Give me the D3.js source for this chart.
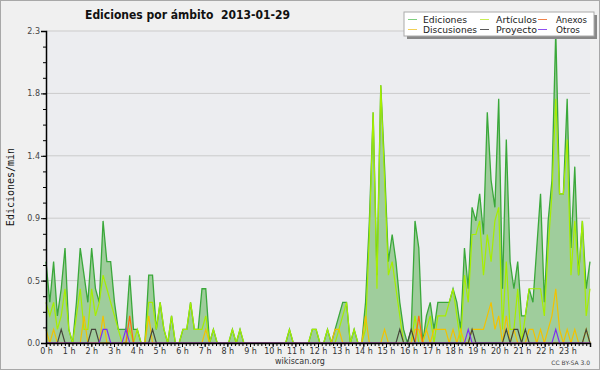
<!DOCTYPE html>
<html>
<head>
<meta charset="utf-8">
<script src="https://cdn.jsdelivr.net/npm/d3@7"></script>
<style>
body { margin: 0; background: #f0f0f0; }
svg { display: block; }
text { white-space: pre; }
</style>
</head>
<body>
<div id="chart"></div>
<script>
// edits per minute, one value every 10 minutes (00:00 .. 23:50)
var ediciones = [
  0.6,0.3,0.6,0.2,0.4,0.7, 0.1,0.0,0.3,0.7,0.5,0.3,
  0.7,0.4,0.3,0.9,0.6,0.6, 0.3,0.1,0.1,0.1,0.5,0.1,
  0.1,0.0,0.0,0.5,0.5,0.1, 0.3,0.1,0.0,0.2,0.0,0.0,
  0.1,0.1,0.3,0.1,0.1,0.4, 0.4,0.0,0.1,0.0,0.0,0.0,
  0.0,0.1,0.0,0.1,0.0,0.0, 0.0,0.0,0.0,0.0,0.0,0.0,
  0.0,0.0,0.0,0.0,0.1,0.0, 0.0,0.0,0.0,0.0,0.1,0.1,
  0.0,0.0,0.1,0.0,0.1,0.2, 0.3,0.3,0.0,0.1,0.0,0.0,
  0.3,0.9,1.7,0.5,1.9,1.3, 0.6,0.8,0.6,0.3,0.1,0.0,
  0.1,0.9,0.7,0.0,0.2,0.3, 0.1,0.3,0.3,0.3,0.3,0.4,
  0.3,0.1,0.7,0.4,1.0,0.9, 1.1,0.8,1.7,1.2,1.0,1.8,
  0.4,1.5,0.6,0.4,0.6,0.2, 0.2,0.4,0.3,0.7,1.1,0.3,
  0.9,1.2,2.3,1.1,1.1,1.8, 0.7,1.3,0.5,0.9,0.4,0.6
];
var articulos = [
  0.3,0.2,0.3,0.1,0.2,0.4, 0.1,0.0,0.2,0.4,0.1,0.1,
  0.4,0.2,0.3,0.5,0.4,0.3, 0.2,0.1,0.0,0.0,0.1,0.0,
  0.1,0.0,0.0,0.3,0.3,0.1, 0.3,0.1,0.0,0.2,0.0,0.0,
  0.1,0.1,0.3,0.1,0.1,0.1, 0.2,0.0,0.1,0.0,0.0,0.0,
  0.0,0.1,0.0,0.1,0.0,0.0, 0.0,0.0,0.0,0.0,0.0,0.0,
  0.0,0.0,0.0,0.0,0.1,0.0, 0.0,0.0,0.0,0.0,0.1,0.1,
  0.0,0.0,0.1,0.0,0.0,0.1, 0.2,0.3,0.0,0.1,0.0,0.0,
  0.1,0.8,1.7,0.4,1.9,1.2, 0.5,0.6,0.4,0.2,0.0,0.0,
  0.0,0.2,0.0,0.0,0.1,0.2, 0.0,0.2,0.2,0.2,0.3,0.4,
  0.2,0.0,0.5,0.3,0.8,0.8, 0.9,0.5,0.8,0.6,0.9,1.0,
  0.1,0.6,0.1,0.1,0.4,0.0, 0.2,0.4,0.4,0.4,0.4,0.2,
  0.7,1.1,1.8,1.1,1.1,1.5, 0.5,0.9,0.5,0.9,0.2,0.4
];
var discusiones = [
  0.1,0.0,0.1,0.0,0.0,0.0, 0.0,0.0,0.0,0.0,0.2,0.0,
  0.0,0.0,0.0,0.2,0.0,0.0, 0.0,0.0,0.0,0.0,0.0,0.0,
  0.0,0.0,0.0,0.2,0.0,0.0, 0.0,0.0,0.0,0.0,0.0,0.0,
  0.0,0.0,0.0,0.0,0.0,0.0, 0.1,0.0,0.0,0.0,0.0,0.0,
  0.0,0.0,0.0,0.0,0.0,0.0, 0.0,0.0,0.0,0.0,0.0,0.0,
  0.0,0.0,0.0,0.0,0.0,0.0, 0.0,0.0,0.0,0.0,0.0,0.0,
  0.0,0.0,0.0,0.0,0.1,0.1, 0.0,0.0,0.0,0.0,0.0,0.0,
  0.2,0.0,0.0,0.0,0.0,0.1, 0.0,0.0,0.0,0.0,0.0,0.0,
  0.0,0.1,0.1,0.0,0.1,0.0, 0.1,0.1,0.1,0.1,0.0,0.1,
  0.0,0.1,0.0,0.0,0.1,0.1, 0.1,0.1,0.2,0.3,0.1,0.2,
  0.0,0.2,0.0,0.1,0.0,0.0, 0.0,0.1,0.1,0.0,0.1,0.0,
  0.1,0.2,0.4,0.1,0.0,0.1, 0.0,0.1,0.0,0.0,0.1,0.0
];
var anexos = [
  0,0,0,0,0,0, 0,0,0,0,0,0, 0,0,0,0,0,0, 0,0,0,0,0.2,0,
  0,0,0,0,0,0, 0,0,0,0,0,0, 0,0,0,0,0,0, 0,0,0,0,0,0,
  0,0,0,0,0,0, 0,0,0,0,0,0, 0,0,0,0,0,0, 0,0,0,0,0,0,
  0,0,0,0,0,0, 0,0,0,0,0,0, 0,0,0,0,0,0, 0,0,0,0,0,0,
  0,0,0.2,0,0,0, 0,0,0,0,0,0, 0,0,0,0,0,0, 0,0,0,0,0,0,
  0,0,0,0,0,0, 0,0,0,0,0,0, 0,0,0,0,0,0, 0,0,0,0,0,0
];
var proyecto = [
  0,0,0,0,0.1,0, 0,0,0,0,0,0, 0.1,0.1,0,0,0,0, 0,0,0,0,0,0,
  0,0,0,0,0.1,0, 0,0,0,0,0,0, 0,0,0,0,0,0, 0,0,0,0,0,0,
  0,0,0,0,0,0, 0,0,0,0,0,0, 0,0,0,0,0,0, 0,0,0,0,0,0,
  0,0,0,0,0,0, 0,0,0,0,0,0, 0,0,0,0,0,0, 0,0,0,0.1,0,0,
  0.1,0,0,0,0,0, 0,0,0,0,0,0, 0,0,0,0,0.1,0, 0,0,0,0,0,0,
  0,0.1,0,0.1,0.1,0, 0.1,0,0,0,0,0, 0,0,0,0,0,0, 0,0,0,0,0.1,0
];
var otros = [
  0,0,0,0,0,0, 0,0,0,0,0,0, 0,0,0,0.1,0.1,0, 0,0,0,0.1,0,0,
  0,0,0,0,0,0, 0,0,0,0,0,0, 0,0,0,0,0,0, 0,0,0,0,0,0,
  0,0,0,0,0,0, 0,0,0,0,0,0, 0,0,0,0,0,0, 0,0,0,0,0,0,
  0,0,0,0,0,0, 0,0,0,0,0,0, 0,0,0,0,0,0, 0,0,0,0,0,0,
  0,0,0,0,0,0, 0,0,0,0,0,0, 0,0,0,0.1,0,0, 0,0,0,0,0,0,
  0,0,0,0,0,0, 0,0,0,0,0,0, 0,0,0.1,0,0,0, 0,0,0,0,0,0
];

var hourLabels = ["0 h","1 h","2 h","3 h","4 h","5 h","6 h","7 h","8 h","9 h","10 h","11 h",
                  "12 h","13 h","14 h","15 h","16 h","17 h","18 h","19 h","20 h","21 h","22 h","23 h"];
var yTicks = [0, 0.46, 0.92, 1.38, 1.84, 2.3];
var yTickLabels = ["0.0", "0.5", "0.9", "1.4", "1.8", "2.3"];

var legendNames = ["Ediciones", "Artículos", "Anexos", "Discusiones", "Proyecto", "Otros"];
var legendColors = ["#7fcf7f", "#c8ee55", "#f0824a", "#f2d055", "#5a5a5a", "#8f4ff0"];

var W = 600, H = 370;
var margin = {top: 31, right: 10, bottom: 27, left: 46},
    width = W - margin.left - margin.right,
    height = H - margin.top - margin.bottom;

var svg = d3.select("#chart").append("svg")
    .attr("width", W)
    .attr("height", H);

svg.append("rect")
    .attr("x", 0.5).attr("y", 0.5)
    .attr("width", W - 1).attr("height", H - 1)
    .style("fill", "#f0f0f0")
    .style("stroke", "#a8a8a8");

var g = svg.append("g")
    .attr("transform", "translate(" + margin.left + "," + margin.top + ")");

var x = d3.scaleLinear().domain([0, ediciones.length - 1]).range([0, width]);
var xHour = d3.scaleLinear().domain([0, 24]).range([0, width]);
var y = d3.scaleLinear().domain([0, 2.3]).range([height, 0]);

// plot background
g.append("rect")
    .attr("width", width).attr("height", height)
    .style("fill", "#ecedf0");

// grid lines
g.append("g").selectAll("line")
  .data(yTicks.slice(1)).enter()
  .append("line")
  .attr("x1", 0).attr("x2", width)
  .attr("y1", function(d) { return y(d); })
  .attr("y2", function(d) { return y(d); })
  .style("stroke", "#cbcbcb")
  .style("stroke-width", 1);

var area = d3.area()
    .x(function(d, i) { return x(i); })
    .y0(height)
    .y1(function(d) { return y(d); });

var line = d3.line()
    .x(function(d, i) { return x(i); })
    .y(function(d) { return y(d); });

g.append("path")
    .attr("d", area(ediciones))
    .style("fill", "#9fcd9c")
    .style("stroke", "none");

g.append("path")
    .attr("d", line(ediciones))
    .style("fill", "none")
    .style("stroke", "#3aa83a")
    .style("stroke-width", 1.3);

var series = [
  {data: articulos, color: "#a6ee00"},
  {data: discusiones, color: "#f2c200"},
  {data: anexos, color: "#ff6a10"},
  {data: proyecto, color: "#45453a"},
  {data: otros, color: "#7f2ff0"}
];

for (var i = 0; i < series.length; i++) {
  g.append("path")
    .attr("d", line(series[i].data))
    .style("fill", "none")
    .style("stroke", series[i].color)
    .style("stroke-width", 1.2);
}

// y axis
var yMinor = d3.range(0, 2.3001, 0.115);
g.append("g")
  .call(d3.axisLeft(y).tickValues(yMinor).tickSize(3).tickFormat(""))
  .call(function(a) { a.select(".domain").remove(); });

var yAxis = g.append("g")
  .call(d3.axisLeft(y).tickValues(yTicks).tickSize(5)
        .tickFormat(function(d, i) { return yTickLabels[i]; }));
yAxis.selectAll("text")
  .style("font-family", "DejaVu Sans, sans-serif")
  .style("font-size", "8px")
  .style("fill", "#444")
  .attr("x", -6);

// x axis
g.append("g")
  .attr("transform", "translate(0," + height + ")")
  .call(d3.axisBottom(xHour).tickValues(d3.range(0, 24, 1 / 6)).tickSize(3).tickFormat(""))
  .call(function(a) { a.select(".domain").remove(); });

var xAxis = g.append("g")
  .attr("transform", "translate(0," + height + ")")
  .call(d3.axisBottom(xHour).tickValues(d3.range(24)).tickSize(4)
        .tickFormat(function(d, i) { return hourLabels[i]; }));
xAxis.selectAll("text")
  .style("font-family", "DejaVu Sans, sans-serif")
  .style("font-size", "8px")
  .style("fill", "#333")
  .attr("y", 5);

g.selectAll(".domain").style("stroke", "#000").style("stroke-width", 1.5);
g.selectAll(".tick line").style("stroke", "#000");

// title
svg.append("text")
  .attr("x", 85).attr("y", 19)
  .attr("textLength", 205)
  .attr("lengthAdjust", "spacingAndGlyphs")
  .style("font-family", "DejaVu Sans, sans-serif")
  .style("font-weight", "bold")
  .style("font-size", "12px")
  .style("fill", "#111")
  .text("Ediciones por ámbito  2013-01-29");

// y label
svg.append("text")
  .attr("transform", "translate(14,187) rotate(-90)")
  .attr("text-anchor", "middle")
  .style("font-family", "DejaVu Sans Mono, monospace")
  .style("font-size", "10px")
  .style("fill", "#111")
  .text("Ediciones/min");

// footer
svg.append("text")
  .attr("x", 300).attr("y", 364)
  .attr("text-anchor", "middle")
  .style("font-family", "DejaVu Sans, sans-serif")
  .style("font-size", "8px")
  .style("fill", "#333")
  .text("wikiscan.org");

svg.append("text")
  .attr("x", 590).attr("y", 365)
  .attr("text-anchor", "end")
  .style("font-family", "DejaVu Sans, sans-serif")
  .style("font-size", "6px")
  .style("fill", "#444")
  .text("CC BY-SA 3.0");

// legend
var lg = svg.append("g").attr("transform", "translate(404,12)");
lg.append("rect")
  .attr("x", 3).attr("y", 3).attr("width", 190).attr("height", 24)
  .style("fill", "#888");
lg.append("rect")
  .attr("x", 0).attr("y", 0).attr("width", 190).attr("height", 24)
  .style("fill", "#fff")
  .style("stroke", "#aaa");

var colX = [4, 76, 134];
var textX = [19, 92, 152];
var textW = [44, 41, 31, 54, 41, 24];
legendNames.forEach(function(name, k) {
  var col = k % 3, row = Math.floor(k / 3);
  var yy = 7.5 + row * 10;
  lg.append("line")
    .attr("x1", colX[col]).attr("x2", colX[col] + 9)
    .attr("y1", yy).attr("y2", yy)
    .style("stroke", legendColors[k])
    .style("stroke-width", 1);
  lg.append("text")
    .attr("x", textX[col]).attr("y", yy + 3.5)
    .attr("textLength", textW[k])
    .attr("lengthAdjust", "spacingAndGlyphs")
    .style("font-family", "DejaVu Sans, sans-serif")
    .style("font-size", "9.5px")
    .style("fill", "#222")
    .text(name);
});
</script>
</body>
</html>
